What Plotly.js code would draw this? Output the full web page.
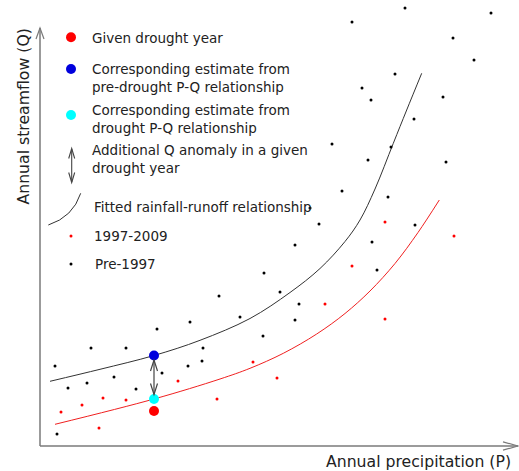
<!DOCTYPE html>
<html>
<head>
<meta charset="utf-8">
<script src="https://cdn.plot.ly/plotly-3.0.1.min.js"></script>
<style>html,body{margin:0;padding:0;background:#fff;}#chart{width:519px;height:471px;}</style>
</head>
<body>
<div id="chart"></div>
<script>
// Annual precipitation (P) and annual streamflow (Q), arbitrary units (no ticks in the original)
const prePeriodP = [312, 365, 451, 413, 434, 355, 322, 331, 403, 374, 292, 351, 328, 406, 302, 348, 279, 375, 270, 255, 332, 337, 224, 240, 259, 255, 223, 179, 200, 150, 117, 51, 86, 163, 15, 148, 162, 122, 74, 28, 47, 96, 17];
const prePeriodQ = [424, 438, 433, 408, 386, 372, 358, 346, 349, 327, 302, 299, 286, 284, 255, 249, 222, 221, 238, 201, 204, 176, 173, 154, 142, 126, 110, 150, 129, 124, 117, 98, 98, 98, 80, 80, 85, 73, 69, 58, 63, 57, 12];

const recentP = [345, 414, 312, 285, 345, 237, 138, 213, 63, 42, 86, 21, 177, 59];
const recentQ = [224, 210, 180, 142, 127, 68, 65, 84, 48, 41, 46, 34, 47, 18];

// fitted rainfall-runoff relationships
const fitPreP = [10, 60, 114, 160, 210, 250, 280, 305, 320, 335, 353.3, 366.7, 381.7];
const fitPreQ = [64.7, 76.7, 90.5, 105.7, 127.5, 153.5, 177.5, 204.5, 226, 257, 302.7, 336, 372.7];
const fitDroughtP = [15, 114, 180, 210, 243.3, 276.7, 305, 330, 355, 378, 399.3];
const fitDroughtQ = [21.7, 47, 67, 77.7, 92.7, 112, 132.5, 155, 182.5, 213.5, 246];

// the highlighted drought year and its two estimates
const droughtYearP = [114];
const droughtYearQ = [35];
const preDroughtEstimateQ = [90.5];
const droughtEstimateQ = [47];

const legendLabels = [
  "Given drought year",
  "Corresponding estimate from<br>pre-drought P-Q relationship",
  "Corresponding estimate from<br>drought P-Q relationship",
  "Additional Q anomaly in a given<br>drought year",
  "Fitted rainfall-runoff relationship",
  "1997-2009",
  "Pre-1997"
];
const xTitle = "Annual precipitation (P)";
const yTitle = "Annual streamflow (Q)";

// ---------- styling / layout ----------
const FONT = "DejaVu Sans, Verdana, sans-serif";
const TXT = "#222";
const AXC = "#7a7a7a";

const traces = [
  {x: fitPreP, y: fitPreQ, mode: "lines", line: {color: "#333", width: 1, shape: "spline", smoothing: 1}, hoverinfo: "skip"},
  {x: fitDroughtP, y: fitDroughtQ, mode: "lines", line: {color: "#f02020", width: 1, shape: "spline", smoothing: 1}, hoverinfo: "skip"},
  {x: prePeriodP, y: prePeriodQ, mode: "markers", marker: {color: "#000", size: 3}},
  {x: recentP, y: recentQ, mode: "markers", marker: {color: "#ff0000", size: 3}},
  {x: droughtYearP, y: droughtYearQ, mode: "markers", marker: {color: "#ff0000", size: 10}},
  {x: droughtYearP, y: preDroughtEstimateQ, mode: "markers", marker: {color: "#0000dd", size: 10}},
  {x: droughtYearP, y: droughtEstimateQ, mode: "markers", marker: {color: "#00ffff", size: 10}}
];

// legend block (positions in chart units)
const legX = 31;
const legendMarkers = [
  {y: 408.7, color: "#ff0000", size: 10},
  {y: 377, color: "#0000dd", size: 10},
  {y: 331, color: "#00ffff", size: 10},
  {y: 210, color: "#ff0000", size: 3},
  {y: 182, color: "#000", size: 3}
];
legendMarkers.forEach(m => traces.push({x: [legX], y: [m.y], mode: "markers", marker: {color: m.color, size: m.size}, hoverinfo: "skip"}));

const legendTextPos = [
  {x: 50, y: 408.5}, {x: 50, y: 368.5}, {x: 50, y: 327.5}, {x: 50, y: 287.3},
  {x: 52.3, y: 238.7}, {x: 52.3, y: 210}, {x: 53.3, y: 182}
];
const annotations = legendLabels.map((t, i) => ({
  x: legendTextPos[i].x, y: legendTextPos[i].y, xref: "x", yref: "y", text: t,
  showarrow: false, xanchor: "left", yanchor: "middle", align: "left",
  font: {family: FONT, size: 13.5, color: TXT}
}));
annotations.push({x: 473, y: -15.7, xref: "x", yref: "y", text: xTitle, showarrow: false,
  xanchor: "right", yanchor: "middle", font: {family: FONT, size: 15.7, color: TXT}});
annotations.push({x: -17, y: 329.5, xref: "x", yref: "y", text: yTitle, showarrow: false, textangle: -90,
  xanchor: "center", yanchor: "middle", font: {family: FONT, size: 15.7, color: TXT}});

function vHead(tx, ty, dx, dy, len, half) {
  // V-shaped open arrowhead with tip at (tx,ty) pointing along (dx,dy)
  const px = -dy, py = dx;
  const bx = tx - dx * len, by = ty - dy * len;
  return `M${bx + px * half},${by + py * half} L${tx},${ty} L${bx - px * half},${by - py * half}`;
}

const shapes = [
  // axes
  {type: "line", xref: "x", yref: "y", x0: 0, y0: 0, x1: 478, y1: 0, line: {color: AXC, width: 1.5}},
  {type: "line", xref: "x", yref: "y", x0: 0, y0: 0, x1: 0, y1: 418, line: {color: AXC, width: 1.5}},
  {type: "path", xref: "x", yref: "y", path: vHead(478, 0, 1, 0, 15, 4.2), line: {color: AXC, width: 1.2}},
  {type: "path", xref: "x", yref: "y", path: vHead(0, 418, 0, 1, 11, 4), line: {color: AXC, width: 1.2}}
];

// double arrow between the two estimates
const aTop = preDroughtEstimateQ[0] - 4.5, aBot = droughtEstimateQ[0] + 4.5, aX = droughtYearP[0];
shapes.push({type: "line", xref: "x", yref: "y", x0: aX, y0: aBot, x1: aX, y1: aTop, line: {color: "#444", width: 1.2}});
shapes.push({type: "path", xref: "x", yref: "y", path: vHead(aX, aTop, 0, 1, 11, 3.5), line: {color: "#444", width: 1.2}});
shapes.push({type: "path", xref: "x", yref: "y", path: vHead(aX, aBot, 0, -1, 11, 3.5), line: {color: "#444", width: 1.2}});

// legend: double arrow and curve symbol
shapes.push({type: "line", xref: "x", yref: "y", x0: 31.7, y0: 264, x1: 31.7, y1: 297, line: {color: "#444", width: 1.1}});
shapes.push({type: "path", xref: "x", yref: "y", path: vHead(31.7, 297.5, 0, 1, 10, 3), line: {color: "#444", width: 1.1}});
shapes.push({type: "path", xref: "x", yref: "y", path: vHead(31.7, 263.5, 0, -1, 10, 3), line: {color: "#444", width: 1.1}});
shapes.push({type: "path", xref: "x", yref: "y", path: "M8.3,221 Q33,229 40.7,252.7", line: {color: "#333", width: 1}});

const layout = {
  width: 519, height: 471,
  margin: {l: 0, r: 0, t: 0, b: 0},
  paper_bgcolor: "#fff", plot_bgcolor: "#fff",
  showlegend: false,
  xaxis: {range: [-40, 479], visible: false, fixedrange: true},
  yaxis: {range: [-25, 446], visible: false, fixedrange: true},
  shapes: shapes,
  annotations: annotations
};

Plotly.newPlot("chart", traces, layout, {displayModeBar: false, staticPlot: true});
</script>
</body>
</html>
